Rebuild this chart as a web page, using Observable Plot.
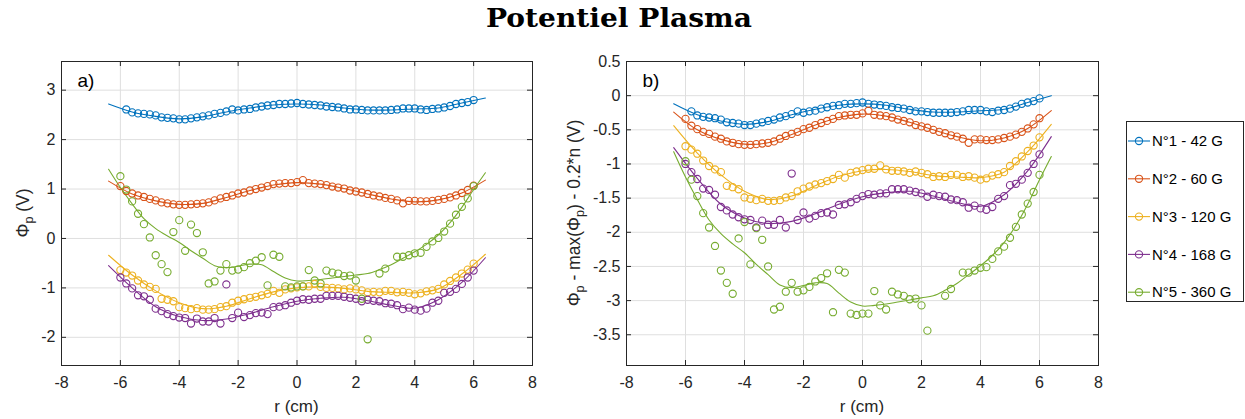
<!DOCTYPE html>
<html><head><meta charset="utf-8">
<script src="https://cdn.jsdelivr.net/npm/d3@7"></script>
<script src="https://cdn.jsdelivr.net/npm/@observablehq/plot@0.6"></script>
<style>
body{margin:0;background:#fff;}
#wrap{position:relative;width:1245px;height:419px;overflow:hidden;background:#fff;}
#wrap>svg{position:absolute;}
</style></head><body><div id="wrap"></div>
<script>
// ---------- data ----------
const r = [-6,-5.8,-5.6,-5.4,-5.2,-5,-4.8,-4.6,-4.4,-4.2,-4,-3.8,-3.6,-3.4,-3.2,-3,-2.8,-2.6,-2.4,-2.2,-2,-1.8,-1.6,-1.4,-1.2,-1,-0.8,-0.6,-0.4,-0.2,0,0.2,0.4,0.6,0.8,1,1.2,1.4,1.6,1.8,2,2.2,2.4,2.6,2.8,3,3.2,3.4,3.6,3.8,4,4.2,4.4,4.6,4.8,5,5.2,5.4,5.6,5.8,6];
const series = ["N°1 - 42 G","N°2 - 60 G","N°3 - 120 G","N°4 - 168 G","N°5 - 360 G"];
const colors = ["#0072BD","#D95319","#EDB120","#7E2F8E","#77AC30"];

const phi1 = [null,2.61,2.55,2.53,2.52,2.51,2.49,2.45,2.44,2.43,2.41, 2.41,2.43,2.45,2.47,2.49,2.52,2.54,2.57,2.61,2.59, 2.61,2.62,2.65,2.67,2.69,2.70,2.72,2.72,2.73,2.74, 2.72,2.71,2.70,2.69,2.67,2.66,2.65,2.63,2.61,2.61, 2.60,2.59,2.59,2.59,2.59,2.60,2.61,2.63,2.63,2.63, 2.61,2.60,2.62,2.63,2.65,2.68,2.72,2.74,2.76,2.80];
const phi2 = [1.06,0.96,0.91,0.87,0.84,0.80,0.77,0.73,0.71,0.69,0.68, 0.68,0.69,0.70,0.71,0.73,0.77,0.81,0.84,0.87,0.91, 0.93,0.97,1.00,1.03,1.06,1.10,1.11,1.12,1.12,1.14, 1.18,1.12,1.11,1.10,1.08,1.05,1.03,1.01,0.97,0.95, 0.93,0.90,0.87,0.85,0.82,0.80,0.77,0.71,0.76,0.76, 0.75,0.75,0.76,0.78,0.80,0.83,0.87,0.92,0.98,1.07];
const phi3 = [-0.64,-0.69,-0.75,-0.85,-0.93,-0.98,-1.02,-1.22,-1.24,-1.27,-1.39, -1.41,-1.43,-1.41,-1.44,-1.44,-1.43,-1.39,-1.37,-1.30,-1.26, -1.23,-1.20,-1.18,-1.15,-1.12,-1.06,-1.10,-1.03,-1.01,-0.99, -0.97,-0.97,-0.92,-0.98,-1.00,-1.00,-1.01,-1.03,-1.01,-1.03, -1.05,-1.09,-1.08,-1.09,-1.06,-1.06,-1.09,-1.08,-1.10,-1.13, -1.11,-1.07,-1.05,-1.02,-0.93,-0.86,-0.79,-0.71,-0.63,-0.51];
const phi4 = [-0.79,-0.91,-1.01,-1.15,-1.17,-1.24,-1.42,-1.47,-1.53,-1.57,-1.60, -1.61,-1.72,-1.62,-1.68,-1.68,-1.61,-1.72,-0.93,-1.61,-1.50, -1.59,-1.55,-1.51,-1.50,-1.53,-1.39,-1.38,-1.35,-1.30,-1.26, -1.23,-1.24,-1.22,-1.22,-1.16,-1.16,-1.16,-1.18,-1.20,-1.22, -1.27,-1.24,-1.26,-1.27,-1.31,-1.32,-1.35,-1.43,-1.40,-1.44, -1.46,-1.42,-1.30,-1.26,-1.10,-1.08,-1.02,-0.92,-0.79,-0.65];
const phi5 = [1.26,0.99,0.75,0.50,0.29,0.02,-0.34,-0.52,-0.68,0.13,0.37, -0.25,0.28,0.11,-0.28,-0.91,-0.87,-0.65,-0.52,-0.65,-0.63, -0.58,-0.50,-0.45,-0.38,-0.95,-0.33,-0.37,-0.97,-0.99,-0.97, -0.97,-0.64,-0.85,-0.91,-0.65,-0.69,-0.71,-0.76,-0.75,-0.85, -1.22,-2.04,null,-0.71,-0.61,null,-0.37,-0.37,-0.34,-0.30, -0.29,-0.17,-0.06,0.01,0.14,0.30,0.48,0.64,0.81,1.06];

// fitted curves
const fitR = [-6.4,-5.6,-4.8,-4,-3.2,-2.4,-1.6,-0.8,0,0.8,1.6,2.4,3.2,4,4.8,5.6,6.4];
const fit1 = [2.72,2.56,2.47,2.42,2.46,2.56,2.64,2.70,2.72,2.70,2.64,2.60,2.60,2.62,2.64,2.74,2.84];
const fit2 = [1.16,0.90,0.76,0.69,0.71,0.83,0.97,1.08,1.13,1.10,1.01,0.90,0.80,0.74,0.78,0.92,1.18];
const fit3 = [-0.34,-0.74,-1.06,-1.30,-1.42,-1.37,-1.22,-1.08,-1.00,-0.98,-1.01,-1.07,-1.09,-1.10,-1.02,-0.72,-0.32];
const fit4 = [-0.55,-1.00,-1.38,-1.58,-1.66,-1.63,-1.52,-1.38,-1.27,-1.21,-1.19,-1.26,-1.35,-1.41,-1.24,-0.89,-0.39];
const fitR5 = [-6.4,-6,-5.6,-5.2,-4.8,-4.4,-4,-3.6,-3.2,-2.8,-2.4,-2,-1.6,-1.2,-0.8,-0.4,0,0.4,0.8,1.2,1.6,2,2.4,2.8,3.2,3.6,4,4.4,4.8,5.2,5.6,6,6.4];
const fit5 = [1.40,1.03,0.70,0.40,0.20,0.05,-0.08,-0.25,-0.40,-0.55,-0.59,-0.56,-0.52,-0.53,-0.67,-0.80,-0.86,-0.85,-0.83,-0.80,-0.77,-0.74,-0.71,-0.63,-0.53,-0.40,-0.27,-0.12,0.07,0.32,0.63,0.99,1.33];

// panel b: Phi_p - max(Phi_p) - 0.2*n, shift of each series
const offsetsB = [-2.84,-1.40,-0.10,-0.21,-2.22];
const offsetsA = [0,0,0,0,0];

const xTicks = [-8,-6,-4,-2,0,2,4,6,8];
const yTicksA = [-2,-1,0,1,2,3];
const yTicksB = [-3.5,-3,-2.5,-2,-1.5,-1,-0.5,0,0.5];

// ---------- build ----------
const phis = [phi1,phi2,phi3,phi4,phi5];
const fits = [fit1,fit2,fit3,fit4,fit5];
const fitXs = [fitR,fitR,fitR,fitR,fitR5];
const FONT = '"Liberation Sans", Arial, Helvetica, sans-serif';
const INK = "#262626";
const wrap = document.getElementById("wrap");

function makePanel({left, width, mL, mR, yDomain, yTicks, offsets, tag, ylabelX, ylabel}) {
  const H = 419, mT = 61, mB = 54;
  const innerH = H - mT - mB, innerW = width - mL - mR;
  const pts = [], lines = [];
  phis.forEach((arr, i) => arr.forEach((v, j) => {
    if (v != null) pts.push({r: r[j], v: v + offsets[i], s: series[i]});
  }));
  fits.forEach((arr, i) => arr.forEach((v, j) => {
    lines.push({r: fitXs[i][j], v: v + offsets[i], s: series[i]});
  }));
  const fmt = d => String(d);
  const plot = Plot.plot({
    width, height: H, marginLeft: mL, marginRight: mR, marginTop: mT, marginBottom: mB,
    style: {fontFamily: FONT, fontSize: "16px", color: INK, background: "transparent", overflow: "visible"},
    x: {domain: [-8, 8]},
    y: {domain: yDomain},
    color: {domain: series, range: colors},
    marks: [
      Plot.gridX(xTicks, {stroke: "#dfdfdf", strokeOpacity: 1}),
      Plot.gridY(yTicks, {stroke: "#dfdfdf", strokeOpacity: 1}),
      Plot.line(lines, {x: "r", y: "v", z: "s", stroke: "s", curve: "catmull-rom", strokeWidth: 1.1, clip: true}),
      Plot.dot(pts, {x: "r", y: "v", stroke: "s", r: 3.6, strokeWidth: 1.1, clip: true}),
      Plot.tickX(xTicks, {x: d => d, stroke: INK, insetTop: innerH - 5}),
      Plot.tickX(xTicks, {x: d => d, stroke: INK, insetBottom: innerH - 5}),
      Plot.tickY(yTicks, {y: d => d, stroke: INK, insetRight: innerW - 5}),
      Plot.tickY(yTicks, {y: d => d, stroke: INK, insetLeft: innerW - 5}),
      Plot.frame({stroke: INK}),
      Plot.axisX(xTicks, {tickSize: 0, tickPadding: 11.5, tickFormat: fmt, label: null, fill: INK}),
      Plot.axisY(yTicks, {tickSize: 0, tickPadding: 6, tickFormat: fmt, label: null, fill: INK}),
      Plot.text([tag], {text: d => d, frameAnchor: "top-left", dx: 16, dy: 12, fontSize: 19, lineAnchor: "top", textAnchor: "start", fill: "#000"})
    ]
  });
  plot.style.left = left + "px";
  plot.style.top = "0px";
  wrap.appendChild(plot);
  const svg = d3.select(plot);
  // x label
  svg.append("text").attr("x", mL + innerW / 2).attr("y", 411.5)
    .attr("text-anchor", "middle").attr("fill", INK)
    .attr("font-family", FONT).attr("font-size", 17).text("r (cm)");
  // y label with subscripts
  const t = svg.append("text")
    .attr("transform", `translate(${ylabelX},${mT + innerH / 2}) rotate(-90)`)
    .attr("text-anchor", "middle").attr("fill", INK)
    .attr("font-family", FONT).attr("font-size", 17.5);
  let prevSub = false;
  ylabel.forEach(([s, sub]) => {
    const ts = t.append("tspan").text(s);
    if (sub) ts.attr("dy", 4).attr("font-size", 12.5);
    else if (prevSub) ts.attr("dy", -4);
    prevSub = sub;
  });
}

makePanel({left: 0, width: 545, mL: 61, mR: 13, yDomain: [-2.57, 3.58], yTicks: yTicksA,
  offsets: offsetsA, tag: "a)", ylabelX: 29, ylabel: [["Φ", false], ["p", true], [" (V)", false]]});
makePanel({left: 545, width: 590, mL: 81, mR: 37, yDomain: [-3.95, 0.5], yTicks: yTicksB,
  offsets: offsetsB, tag: "b)", ylabelX: 35,
  ylabel: [["Φ", false], ["p", true], [" - max(Φ", false], ["p", true], [") - 0.2*n (V)", false]]});

// title
const title = d3.select(wrap).append("svg")
  .attr("width", 1245).attr("height", 40).style("left", "0px").style("top", "0px");
title.append("text").attr("x", 619).attr("y", 27).attr("text-anchor", "middle")
  .attr("font-family", '"DejaVu Serif", serif').attr("font-weight", "bold").attr("font-size", 26)
  .attr("textLength", 266).attr("lengthAdjust", "spacingAndGlyphs").attr("fill", "#000")
  .text("Potentiel Plasma");

// legend
const lg = d3.select(wrap).append("svg")
  .attr("width", 120).attr("height", 183).style("left", "1125px").style("top", "120px");
lg.append("rect").attr("x", 1.5).attr("y", 1.5).attr("width", 117).attr("height", 180)
  .attr("fill", "#fff").attr("stroke", INK).attr("stroke-width", 1);
series.forEach((s, i) => {
  const y = 21 + i * 37.8;
  lg.append("line").attr("x1", 3).attr("x2", 25).attr("y1", y).attr("y2", y)
    .attr("stroke", colors[i]).attr("stroke-width", 1.1);
  lg.append("circle").attr("cx", 14).attr("cy", y).attr("r", 3.6)
    .attr("fill", "none").attr("stroke", colors[i]).attr("stroke-width", 1.1);
  lg.append("text").attr("x", 27).attr("y", y).attr("dy", "0.35em")
    .attr("font-family", FONT).attr("font-size", 15).attr("fill", "#000").text(s);
});
</script></body></html>
